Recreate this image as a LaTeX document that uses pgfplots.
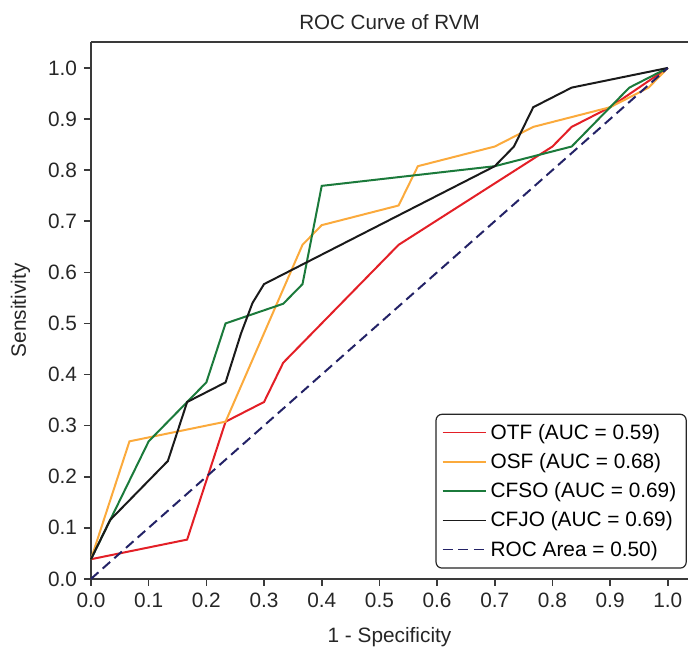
\documentclass[border=0pt]{standalone}
\usepackage{fontspec}
\setmainfont{Liberation Sans}
\usepackage{pgfplots}
\pgfplotsset{compat=1.18}
\definecolor{otfRed}{HTML}{E31F26}
\definecolor{osfOrange}{HTML}{FBAA3C}
\definecolor{cfsoGreen}{HTML}{1B7A3B}
\definecolor{cfjoBlack}{HTML}{1A1A1A}
\definecolor{rocNavy}{HTML}{232266}
\definecolor{spineGray}{HTML}{3A3A3A}
\newcommand{\chartfont}{\fontsize{10.4}{12.5}\selectfont}
\begin{document}
\begin{tikzpicture}
\begin{axis}[
  scale only axis,
  width=298.5pt, height=268.5pt,
  xmin=0, xmax=1.035, ymin=0, ymax=1.051,
  axis x line=box, axis y line*=left,
  xtick pos=bottom,
  xtick={0,0.1,...,1.01}, ytick={0,0.1,...,1.01},
  tick align=outside,
  major tick length=3.5pt,
  axis line style={draw=spineGray, line width=0.8pt},
  tick style={draw=spineGray, line width=0.8pt},
  /pgf/number format/assume math mode=true,
  xticklabel style={/pgf/number format/.cd, fixed, fixed zerofill, precision=1},
  yticklabel style={/pgf/number format/.cd, fixed, fixed zerofill, precision=1},
  tick label style={font=\chartfont, text=black!85},
  label style={font=\chartfont, text=black!85},
  xlabel={1 - Specificity},
  ylabel={Sensitivity},
  xlabel style={yshift=-3pt},
  ylabel style={yshift=2pt},
  legend style={
    at={(rel axis cs:0.998,0.019)}, anchor=south east,
    draw=black!85, rounded corners=3pt, line width=0.6pt,
    font=\chartfont,
    row sep=1.1pt, inner xsep=3pt, inner ysep=2.5pt,
    cells={anchor=west, text height=8pt, text depth=2.5pt},
  },
  legend image code/.code={\draw[#1, line width=0.7pt] (0cm,0cm) -- (0.76cm,0cm);},
  clip=false,
  every axis plot/.append style={line width=1pt},
]
\addplot[otfRed] coordinates {
  (0,0.0385) (0.1667,0.0769) (0.2333,0.3077) (0.3,0.3462) (0.3333,0.4231)
  (0.5333,0.6538) (0.8,0.8462) (0.8333,0.8846) (0.9,0.9231) (1,1)};
\addlegendentry{OTF (AUC = 0.59)}
\addplot[osfOrange] coordinates {
  (0,0.0385) (0.0667,0.2692) (0.2333,0.3077) (0.3667,0.6538) (0.4,0.6923)
  (0.5333,0.7308) (0.5667,0.8077) (0.7,0.8462) (0.7667,0.8846) (0.9,0.9231)
  (0.9667,0.9615) (1,1)};
\addlegendentry{OSF (AUC = 0.68)}
\addplot[cfsoGreen] coordinates {
  (0,0.0385) (0.1,0.2692) (0.1667,0.3462) (0.2,0.3846) (0.2333,0.5)
  (0.3333,0.5385) (0.3667,0.5769) (0.4,0.7692) (0.7,0.8077) (0.8333,0.8462)
  (0.9333,0.9615) (1,1)};
\addlegendentry{CFSO (AUC = 0.69)}
\addplot[cfjoBlack] coordinates {
  (0,0.0385) (0.0333,0.1154) (0.1333,0.2308) (0.1667,0.3462) (0.2333,0.3846)
  (0.26,0.48) (0.28,0.54) (0.3,0.5769) (0.7,0.8077) (0.7333,0.8462)
  (0.7667,0.9231) (0.8333,0.9615) (1,1)};
\addlegendentry{CFJO (AUC = 0.69)}
\addplot[rocNavy, dashed, dash pattern=on 5pt off 2.8pt] coordinates {(0,0) (1,1)};
\addlegendentry{ROC Area = 0.50)}
\node[font=\fontsize{10.3}{12}\selectfont, text=black!85] at (rel axis cs:0.5,1.036) {ROC Curve of RVM};
\path (rel axis cs:-0.1524,-0.1322) rectangle (rel axis cs:1.0067,1.078);
\end{axis}
\end{tikzpicture}
\end{document}
